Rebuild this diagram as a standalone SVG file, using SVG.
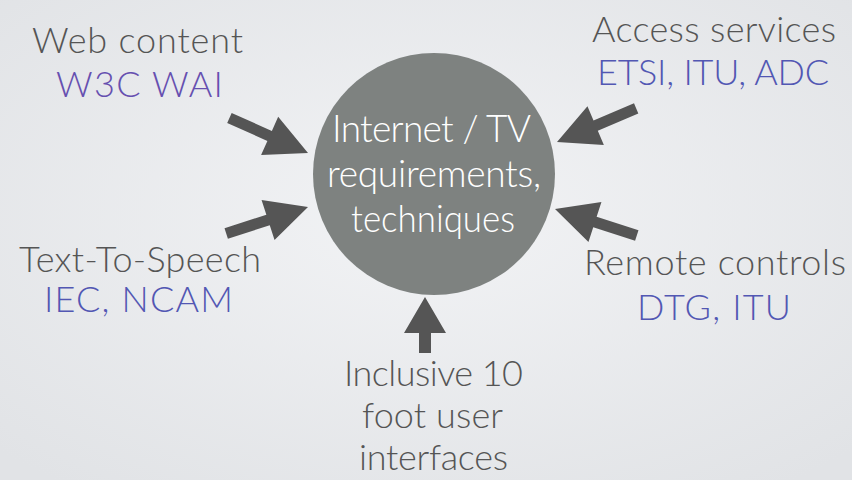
<svg xmlns="http://www.w3.org/2000/svg" width="852" height="480" viewBox="0 0 852 480">
<defs>
<radialGradient id="bg" cx="50%" cy="45%" r="70%">
<stop offset="0" stop-color="#f2f3f5"/>
<stop offset="1" stop-color="#e1e3e6"/>
</radialGradient>
<path id="arr" d="M-86,-5.5 L-42,-5.5 L-42,-21 L0,0 L-42,21 L-42,5.5 L-86,5.5 Z"/>
</defs>
<style>
.lbl{font-family:Lato,"Open Sans",sans-serif;font-weight:300;font-size:36px;fill:#555555;text-anchor:middle}
.org{font-family:Lato,"Open Sans",sans-serif;font-weight:300;font-size:36px;fill:#5257b3;text-anchor:middle}
.ctr{font-family:Lato,"Open Sans",sans-serif;font-weight:300;font-size:37px;fill:#ffffff;text-anchor:middle}
.ar{fill:#555555}
</style>
<rect width="852" height="480" fill="url(#bg)"/>
<g id="hub">
<circle cx="434" cy="174" r="121" fill="#7e8280"/>
<text class="ctr" x="431.5" y="142" textLength="199" lengthAdjust="spacing">Internet / TV</text>
<text class="ctr" x="434" y="187" textLength="214" lengthAdjust="spacing">requirements,</text>
<text class="ctr" x="433" y="232" textLength="164" lengthAdjust="spacingAndGlyphs">techniques</text>
</g>
<g id="web">
<text class="lbl" x="137.5" y="53" textLength="211" lengthAdjust="spacing">Web content</text>
<text class="org" x="139.5" y="97" textLength="167" lengthAdjust="spacing" style="fill:#6650b0">W3C WAI</text>
</g>
<g id="access">
<text class="lbl" x="714" y="42" textLength="244" lengthAdjust="spacing">Access services</text>
<text class="org" x="713" y="85" textLength="232" lengthAdjust="spacing">ETSI, ITU, ADC</text>
</g>
<g id="tts">
<text class="lbl" x="140" y="272" textLength="242" lengthAdjust="spacing">Text-To-Speech</text>
<text class="org" x="138.5" y="312" textLength="189" lengthAdjust="spacing">IEC, NCAM</text>
</g>
<g id="remote">
<text class="lbl" x="715" y="275" textLength="262" lengthAdjust="spacing">Remote controls</text>
<text class="org" x="714" y="320" textLength="154" lengthAdjust="spacing">DTG, ITU</text>
</g>
<g id="inclusive">
<text class="lbl" x="433.5" y="386" textLength="179" lengthAdjust="spacing">Inclusive 10</text>
<text class="lbl" x="432.5" y="428" textLength="141" lengthAdjust="spacing">foot user</text>
<text class="lbl" x="433.5" y="470" textLength="149" lengthAdjust="spacing">interfaces</text>
</g>
<g id="connectors" class="ar">
<use href="#arr" transform="translate(308,153) rotate(24)"/>
<use href="#arr" transform="translate(557,142) rotate(157)"/>
<use href="#arr" transform="translate(308,207) rotate(-18)"/>
<use href="#arr" transform="translate(555,209) rotate(-162)"/>
<path d="M425,297 L446,333 L431,333 L431,353 L419,353 L419,333 L404,333 Z"/>
</g>
</svg>
